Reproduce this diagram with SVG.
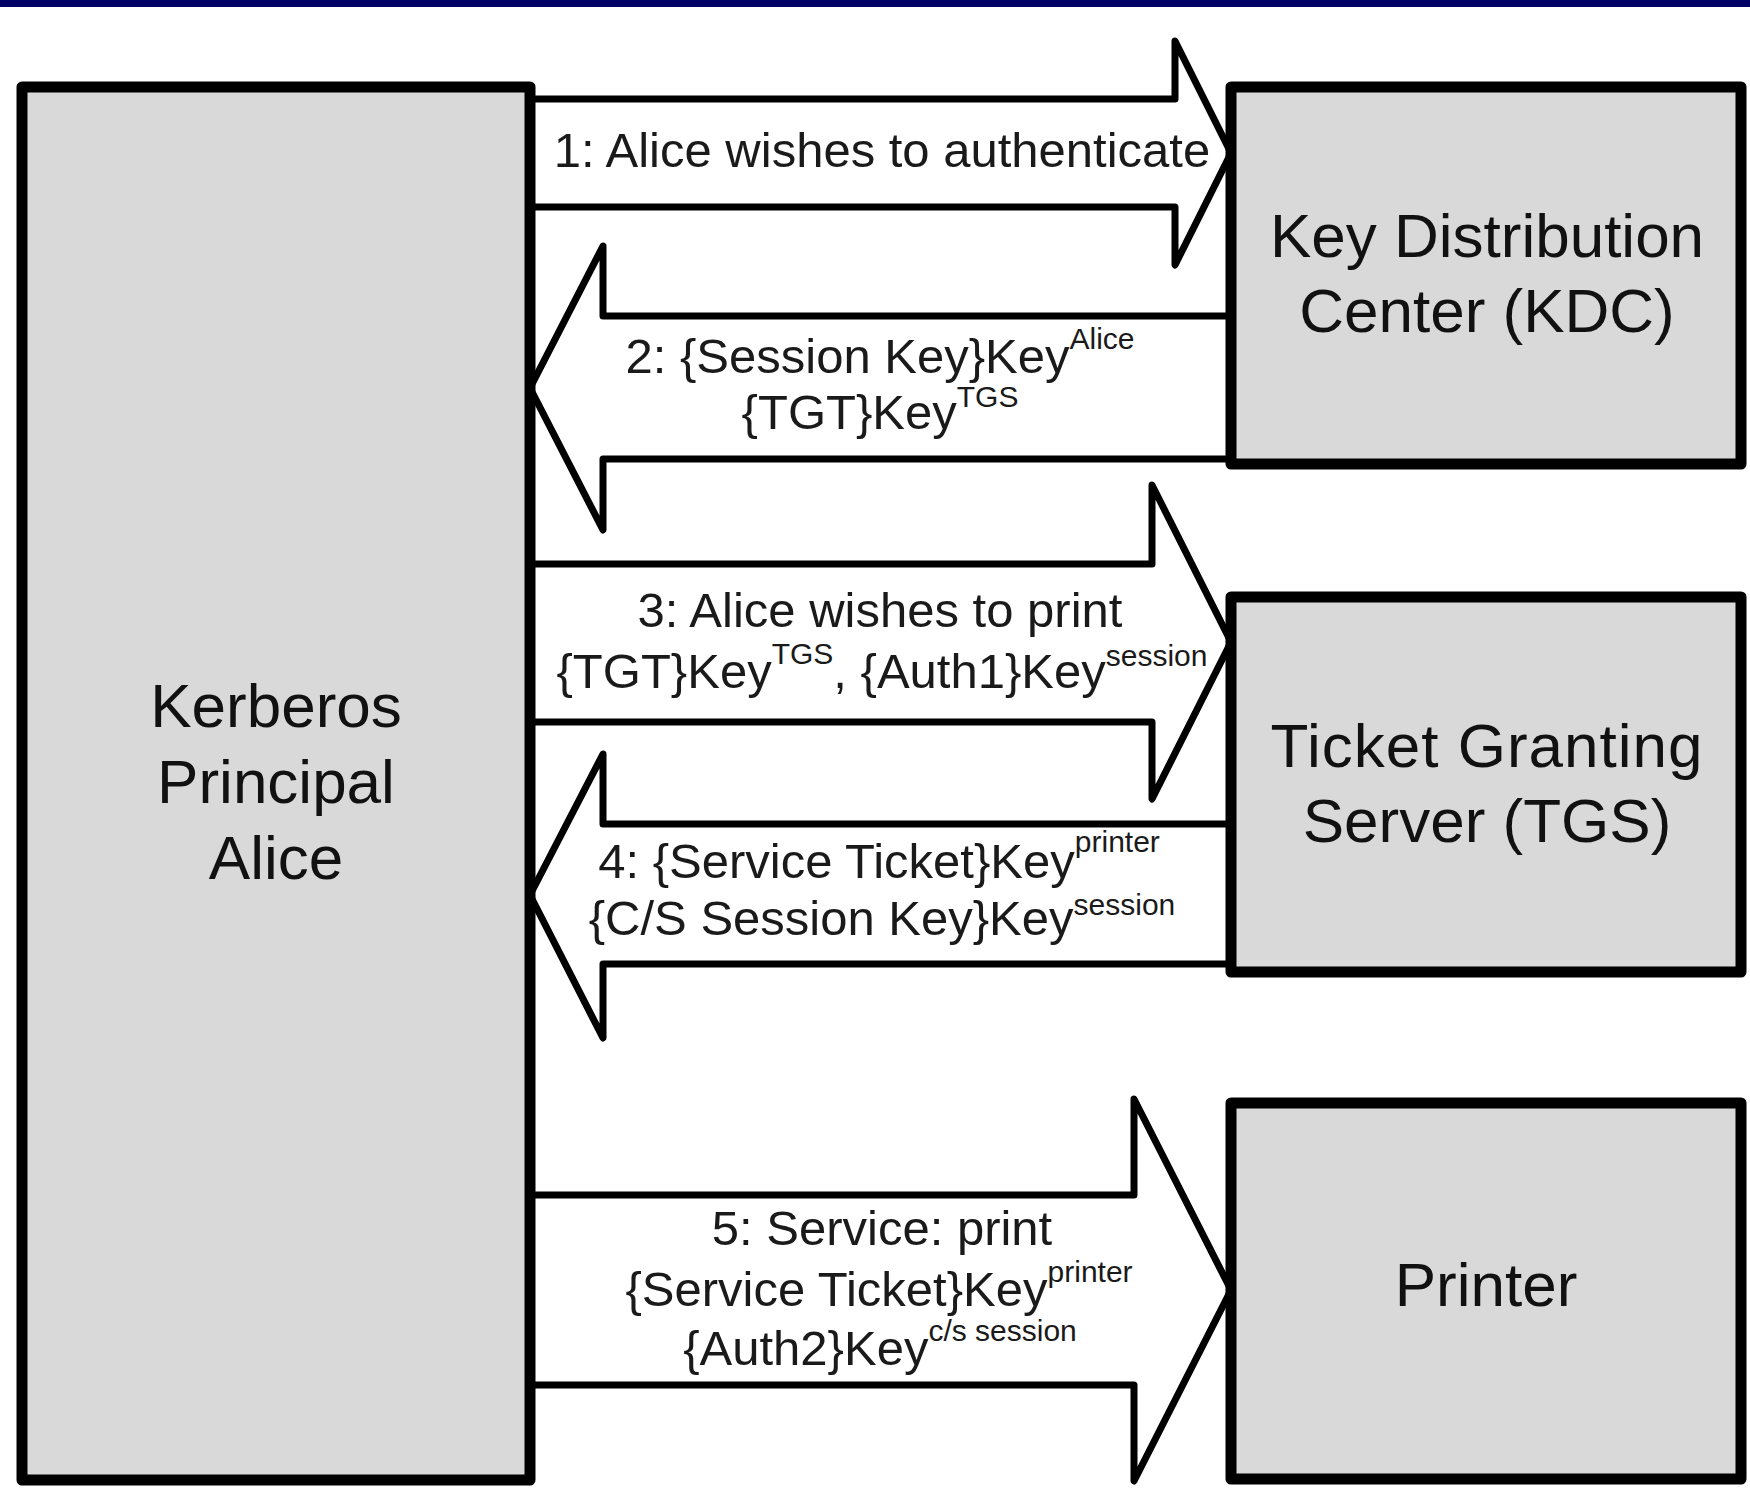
<svg xmlns="http://www.w3.org/2000/svg" width="1750" height="1497" viewBox="0 0 1750 1497">
<style>
.box{fill:#d9d9d9;stroke:#000;stroke-width:11;stroke-linejoin:round}
.arr{fill:#fff;stroke:#000;stroke-width:7;stroke-linejoin:round}
.nt{font-family:"Liberation Sans",Arial,sans-serif;font-size:62px;fill:#111;text-anchor:middle}
.lt{font-family:"Liberation Sans",Arial,sans-serif;font-size:49px;fill:#1a1a1a;text-anchor:middle}
.sup{font-size:30px}
</style>
<rect x="0" y="0" width="1750" height="1497" fill="#fff"/>
<rect x="0" y="0" width="1750" height="7" fill="#000066"/>
<g id="connectors">
  <g id="msg1">
    <path class="arr" d="M530,99 L1175,99 L1175,41 L1231,153 L1175,265 L1175,207 L530,207"/>
    <text class="lt" x="882" y="167">1: Alice wishes to authenticate</text>
  </g>
  <g id="msg2">
    <path class="arr" d="M1231,316 L603,316 L603,246 L530,388 L603,530 L603,459 L1231,459"/>
    <text class="lt" x="880" y="373">2: {Session Key}Key<tspan class="sup" dy="-24">Alice</tspan></text>
    <text class="lt" x="880" y="429">{TGT}Key<tspan class="sup" dy="-22">TGS</tspan></text>
  </g>
  <g id="msg3">
    <path class="arr" d="M530,564 L1152,564 L1152,485 L1231,642 L1152,799 L1152,722 L530,722"/>
    <text class="lt" x="880" y="627">3: Alice wishes to print</text>
    <text class="lt" x="882" y="688">{TGT}Key<tspan class="sup" dy="-24">TGS</tspan><tspan dy="24">, {Auth1}Key</tspan><tspan class="sup" dy="-22">session</tspan></text>
  </g>
  <g id="msg4">
    <path class="arr" d="M1231,824 L603,824 L603,754 L530,895 L603,1038 L603,964 L1231,964"/>
    <text class="lt" x="879" y="878">4: {Service Ticket}Key<tspan class="sup" dy="-26">printer</tspan></text>
    <text class="lt" x="882" y="935">{C/S Session Key}Key<tspan class="sup" dy="-20">session</tspan></text>
  </g>
  <g id="msg5">
    <path class="arr" d="M530,1195 L1134,1195 L1134,1099 L1231,1290 L1134,1481 L1134,1385 L530,1385"/>
    <text class="lt" x="882" y="1245">5: Service: print</text>
    <text class="lt" x="879" y="1306">{Service Ticket}Key<tspan class="sup" dy="-24">printer</tspan></text>
    <text class="lt" x="880" y="1365">{Auth2}Key<tspan class="sup" dy="-24">c/s session</tspan></text>
  </g>
</g>
<g id="alice">
  <rect class="box" x="22" y="87" width="508" height="1393"/>
  <text class="nt" x="276" y="727">Kerberos</text>
  <text class="nt" x="276" y="803">Principal</text>
  <text class="nt" x="276" y="879">Alice</text>
</g>
<g id="kdc">
  <rect class="box" x="1231" y="87" width="510" height="377"/>
  <text class="nt" x="1487" y="257">Key Distribution</text>
  <text class="nt" x="1487" y="332">Center (KDC)</text>
</g>
<g id="tgs">
  <rect class="box" x="1231" y="597" width="510" height="375"/>
  <text class="nt" x="1487" y="767" letter-spacing="1">Ticket Granting</text>
  <text class="nt" x="1487" y="842">Server (TGS)</text>
</g>
<g id="printer">
  <rect class="box" x="1231" y="1103" width="510" height="376"/>
  <text class="nt" x="1486" y="1306">Printer</text>
</g>
</svg>
